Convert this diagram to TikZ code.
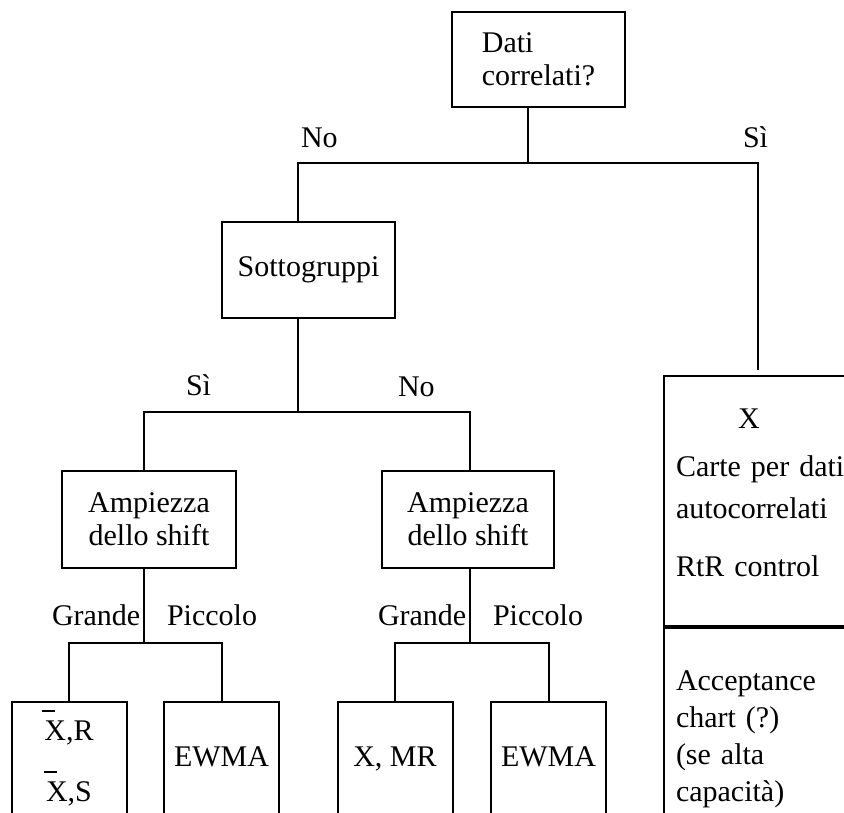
\documentclass[tikz,border=0pt]{standalone}
\usepackage{fontspec}
\setmainfont{Liberation Serif}

\newcommand{\xbar}{\makebox[0pt][l]{\hspace{-2pt}\rule[28pt]{13pt}{2pt}}X}

\begin{document}
\begin{tikzpicture}[x = 1pt, y = -1pt, line width = 2pt, font = \fontsize{30}{33}\selectfont,
	box/.style = {draw, rectangle, inner sep = 0pt},
	leaf/.style = {box, anchor = north, minimum width = 115pt, text depth = 100pt, align = center},
	side/.style = {box, anchor = north west, text width = 172pt, inner xsep = 12pt, align = left},
	lbl/.style = {anchor = base west, inner sep = 0pt}]

	% Frame
	
	\useasboundingbox (0, 0) rectangle (844, 812);
	\clip (0, 0) rectangle (844, 812);
	
	% Questions
	
	\node [box, minimum width = 173pt, minimum height = 95pt, align = left] (corr) at (538.5, 59.5) {Dati\\correlati?};
	\node [box, minimum width = 173pt, minimum height = 96pt] (sotto) at (308.5, 270) {Sottogruppi};
	\node [box, minimum width = 174pt, minimum height = 97pt, align = center] (shiftA) at (149, 519.5) {Ampiezza\\dello shift};
	\node [box, minimum width = 172pt, minimum height = 97pt, align = center] (shiftB) at (468, 519.5) {Ampiezza\\dello shift};
	
	% Charts
	
	\node [leaf, text height = 99pt, text depth = 40pt] (xr) at (69, 701) {\xbar,R\\[25pt]\xbar,S};
	\node [leaf, text height = 64pt] (ewmaA) at (221.5, 701) {EWMA};
	\node [leaf, text height = 64pt] (xmr) at (395, 701) {X, MR};
	\node [leaf, text height = 64pt] (ewmaB) at (548.5, 701) {EWMA};
	
	\node [side, text height = 52pt, text depth = 198pt] (autoc) at (663, 375)
		{\hspace*{62pt}X\\[15pt]Carte per dati\\[9pt]autocorrelati\\[25pt]RtR control};
	\node [side, text height = 62pt, text depth = 200pt] (accept) at (autoc.south west)
		{Acceptance\\[4pt]chart (?)\\[4pt](se alta\\[4pt]capacità)};
	
	% Branches
	
	\coordinate (corrJ) at (528, 163);
	\coordinate (noJ) at (298, 163);
	\coordinate (siJ) at (758, 163);
	\draw (corr.south -| corrJ) -- (corrJ);
	\draw (noJ |- sotto.north) -- (noJ) -- (siJ) -- ([yshift = 5pt] siJ |- autoc.north);
	
	\coordinate (sottoJ) at (298, 412);
	\coordinate (siJb) at (144, 412);
	\coordinate (noJb) at (470, 412);
	\draw (sotto.south -| sottoJ) -- (sottoJ);
	\draw (siJb |- shiftA.north) -- (siJb) -- (noJb) -- (noJb |- shiftB.north);
	
	\coordinate (shiftAJ) at (144, 643);
	\draw (shiftA.south -| shiftAJ) -- (shiftAJ);
	\draw (xr.north) -- (xr.north |- shiftAJ) -- (ewmaA.north |- shiftAJ) -- (ewmaA.north);
	
	\coordinate (shiftBJ) at (470, 643);
	\draw (shiftB.south -| shiftBJ) -- (shiftBJ);
	\draw (xmr.north) -- (xmr.north |- shiftBJ) -- (ewmaB.north |- shiftBJ) -- (ewmaB.north);
	
	% Branch labels
	
	\node [lbl] (noA) at (300, 147) {No};
	\node [lbl] (siA) at (742, 147) {Sì};
	\node [lbl] (siB) at (185, 395) {Sì};
	\node [lbl] (noB) at (397, 396) {No};
	\node [lbl] (grandeA) at (51, 625) {Grande};
	\node [lbl] (piccoloA) at (166, 625) {Piccolo};
	\node [lbl] (grandeB) at (377, 625) {Grande};
	\node [lbl] (piccoloB) at (492, 625) {Piccolo};

\end{tikzpicture}
\end{document}
